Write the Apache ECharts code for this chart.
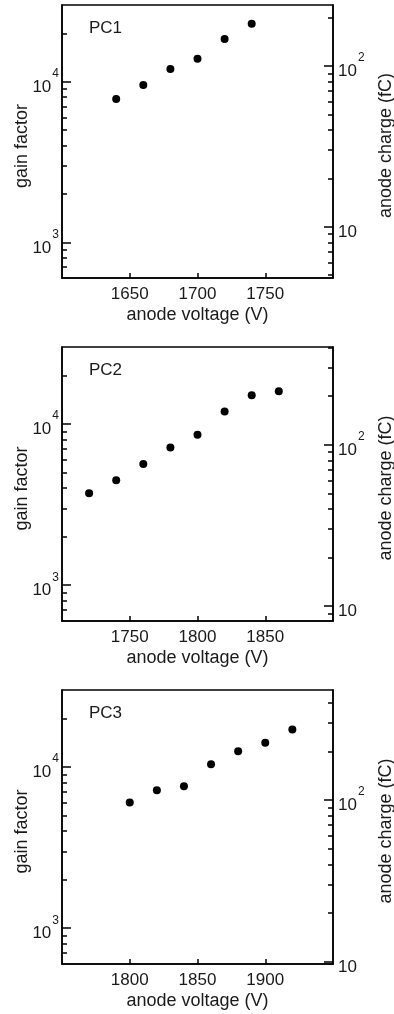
<!DOCTYPE html>
<html>
<head>
<meta charset="utf-8">
<script src="https://cdn.jsdelivr.net/npm/echarts@6/dist/echarts.min.js"></script>
<style>
html,body{margin:0;padding:0;background:#fff;}
#chart{width:394px;height:1014px;}
</style>
</head>
<body>
<div id="chart"></div>
<script>
// ---- data ----
const panelNames = ['PC1', 'PC2', 'PC3'];
const pc1Voltage = [1640, 1660, 1680, 1700, 1720, 1740];
const pc1Gain = [7800, 9540, 12000, 13900, 18450, 22970];
const pc2Voltage = [1720, 1740, 1760, 1780, 1800, 1820, 1840, 1860];
const pc2Gain = [3720, 4480, 5640, 7150, 8580, 11930, 15070, 15960];
const pc3Voltage = [1800, 1820, 1840, 1860, 1880, 1900, 1920];
const pc3Gain = [6020, 7180, 7600, 10400, 12500, 14150, 17040];
const voltageRanges = [[1600, 1800], [1700, 1900], [1750, 1950]];
const gainRange = [600, 30000];
const chargeRanges = [[4.8, 240], [8.07, 403.5], [9.64, 481.8]];
const gainMajorTicks = [1000, 10000];
const gainMinorTicks = [700, 800, 900, 2000, 3000, 4000, 5000, 6000, 7000, 8000, 9000, 20000];
const chargeMajorTicks = [10, 100];
const chargeMinorCandidates = [5, 6, 7, 8, 9, 20, 30, 40, 50, 60, 70, 80, 90, 200, 300, 400];

const voltages = [pc1Voltage, pc2Voltage, pc3Voltage];
const gains = [pc1Gain, pc2Gain, pc3Gain];

// ---- layout ----
const FONT = "'Liberation Sans', Arial, sans-serif";
const TXT = '#1a1a1a';
const gridTops = [5, 347, 690];
const gridHeights = [273, 274, 274];

function powLabel(v) {
  const e = Math.round(Math.log10(v));
  if (e === 1) return '{b|10}';
  return '{b|10}{s|' + e + '}';
}
const richStyle = {
  b: { fontSize: 17, fontFamily: FONT, color: TXT, lineHeight: 28, verticalAlign: 'bottom' },
  s: { fontSize: 12, fontFamily: FONT, color: TXT, lineHeight: 12, verticalAlign: 'top', padding: [0, 0, 0, 1] }
};

const grids = [], xAxes = [], yAxes = [], series = [], titles = [];
for (let i = 0; i < 3; i++) {
  grids.push({
    left: 62, width: 271, top: gridTops[i], height: gridHeights[i],
    outerBoundsMode: 'none', containLabel: false,
    show: true, borderColor: '#000', borderWidth: 1.5, backgroundColor: 'transparent'
  });
  xAxes.push({
    gridIndex: i, type: 'value', position: 'bottom',
    min: voltageRanges[i][0], max: voltageRanges[i][1], interval: 50,
    axisLine: { show: true, lineStyle: { color: '#000', width: 1.5 } },
    axisTick: { show: true, inside: true, length: 5, lineStyle: { color: '#000', width: 1.5 } },
    splitLine: { show: false },
    axisLabel: { showMinLabel: false, showMaxLabel: false, margin: 8, fontSize: 17, fontFamily: FONT, color: TXT,
      formatter: v => String(v) },
    name: 'anode voltage (V)', nameLocation: 'middle', nameGap: 28, nameMoveOverlap: false,
    nameTextStyle: { fontSize: 18, fontFamily: FONT, color: TXT }
  });
  const base = yAxes.length;
  // left major
  yAxes.push({
    gridIndex: i, type: 'log', logBase: 10, position: 'left',
    min: gainRange[0], max: gainRange[1],
    axisLine: { show: true, lineStyle: { color: '#000', width: 1.5 } },
    axisTick: { show: true, inside: true, length: 9, customValues: gainMajorTicks, lineStyle: { color: '#000', width: 1.5 } },
    splitLine: { show: false }, minorTick: { show: false },
    axisLabel: { customValues: gainMajorTicks, margin: 3, formatter: powLabel, rich: richStyle },
    name: 'gain factor', nameLocation: 'middle', nameGap: 31, nameMoveOverlap: false,
    nameTextStyle: { fontSize: 18, fontFamily: FONT, color: TXT, padding: [0, 9, 0, 0] }
  });
  // left minor
  yAxes.push({
    gridIndex: i, type: 'log', logBase: 10, position: 'left',
    min: gainRange[0], max: gainRange[1],
    axisLine: { show: false },
    axisTick: { show: true, inside: true, length: 5, customValues: gainMinorTicks, lineStyle: { color: '#000', width: 1.5 } },
    splitLine: { show: false },
    axisLabel: { show: false }
  });
  const cr = chargeRanges[i];
  const chargeMinor = chargeMinorCandidates.filter(v => v > cr[0] && v < cr[1]);
  // right major
  yAxes.push({
    gridIndex: i, type: 'log', logBase: 10, position: 'right',
    min: cr[0], max: cr[1],
    axisLine: { show: true, lineStyle: { color: '#000', width: 1.5 } },
    axisTick: { show: true, inside: true, length: 9, customValues: chargeMajorTicks, lineStyle: { color: '#000', width: 1.5 } },
    splitLine: { show: false },
    axisLabel: { customValues: chargeMajorTicks, margin: 5, formatter: powLabel, rich: richStyle },
    name: 'anode charge (fC)', nameLocation: 'middle', nameGap: 44, nameMoveOverlap: false,
    nameTextStyle: { fontSize: 18, fontFamily: FONT, color: TXT, padding: [0, 8, 0, 0] }
  });
  // right minor
  yAxes.push({
    gridIndex: i, type: 'log', logBase: 10, position: 'right',
    min: cr[0], max: cr[1],
    axisLine: { show: false },
    axisTick: { show: true, inside: true, length: 5, customValues: chargeMinor, lineStyle: { color: '#000', width: 1.5 } },
    splitLine: { show: false },
    axisLabel: { show: false }
  });
  series.push({
    type: 'scatter', xAxisIndex: i, yAxisIndex: base,
    symbol: 'circle', symbolSize: 8,
    itemStyle: { color: '#000', opacity: 1 },
    data: voltages[i].map((v, k) => [v, gains[i][k]])
  });
  titles.push({
    text: panelNames[i], left: 89, top: gridTops[i] + 15, padding: 0,
    textStyle: { fontSize: 17, fontWeight: 'normal', fontFamily: FONT, color: TXT }
  });
}

const chart = echarts.init(document.getElementById('chart'), null, { renderer: 'canvas' });
chart.setOption({
  animation: false,
  backgroundColor: '#fff',
  title: titles,
  grid: grids,
  xAxis: xAxes,
  yAxis: yAxes,
  series: series
});
</script>
</body>
</html>
